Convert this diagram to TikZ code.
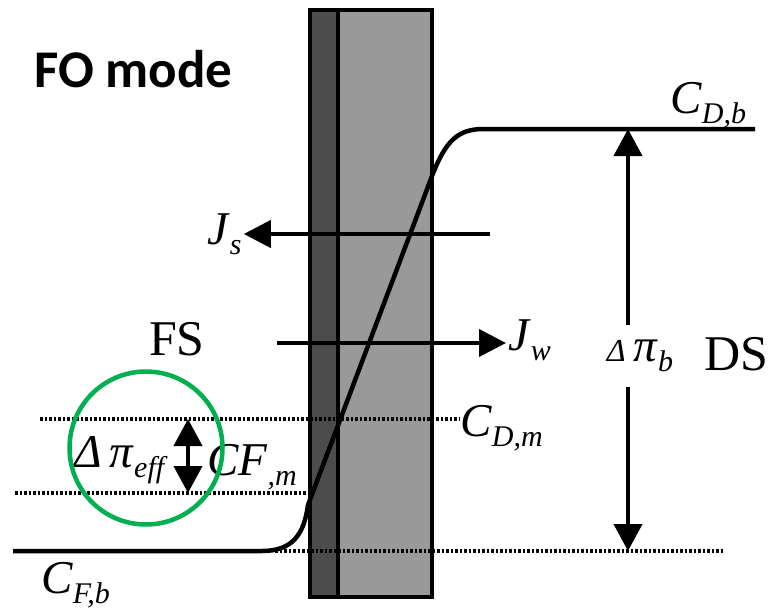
\documentclass[tikz,border=0pt]{standalone}
\usepackage{fontspec}
\setmainfont{Liberation Serif}
\newfontfamily\headfont{Carlito}
\usetikzlibrary{arrows.meta}

% italic symbol with a lowered subscript
\newcommand{\conc}[2]{\textit{#1}\raisebox{-10pt}{\fontsize{30}{30}\selectfont\textit{#2}}}

\definecolor{ringgreen}{RGB}{0,176,80}

\begin{document}
\begin{tikzpicture}[
    x=1pt, y=-1pt,
    lbl/.style={font=\fontsize{47}{47}\selectfont, inner sep=0pt},
    side/.style={font=\fontsize{50}{50}\selectfont, inner sep=0pt},
    flux/.style={line width=4pt, -{Triangle[length=27pt, width=27pt]}},
    span/.style={line width=4pt, {Triangle[length=27pt, width=28pt]}-{Triangle[length=27pt, width=28pt]}},
    level/.style={line width=3.5pt, dash pattern=on 2.5pt off 2pt},
    profile/.style={line width=4.5pt},
    wall/.style={line width=4pt}
]
\useasboundingbox (0,0) rectangle (772,608);

% membrane
\draw[wall, fill=black!40] (338,10) rectangle (432,597);
\draw[wall, fill=black!70] (310,10) rectangle (338,597);

% labels
\node[font=\headfont\bfseries\fontsize{53}{53}\selectfont, inner sep=0pt, anchor=base west] (mode) at (34,87) {FO mode};
\node[lbl, anchor=base west] (cdb) at (670,113) {\conc{C}{D,b}};
\node[lbl, anchor=base west] (cdm) at (460,436) {\conc{C}{D,m}};
\node[lbl, anchor=base west] (cfb) at (41,593) {\conc{C}{F,b}};
\node[lbl, anchor=base west] (cfm) at (207,475) {\conc{CF}{,m}};
\node[lbl, anchor=base west, inner sep=2pt] (js) at (205,244) {\conc{J}{s}};
\node[lbl, anchor=base west, inner sep=2pt] (jw) at (506,350) {\conc{J}{w}};
\node[side, anchor=base] (fs) at (177,355) {FS};
\node[side, anchor=base] (ds) at (736,370) {DS};

% concentration levels
\coordinate (cdm0) at (40,419);
\coordinate (cfm0) at (15,493);
\coordinate (cfm1) at (310,493);
\coordinate (base0) at (275,551);
\coordinate (base1) at (723,551);
\draw[level] (cdm0) -- (cdm.west |- cdm0);
\draw[level] (cfm0) -- (cfm1);
\draw[level] (base0) -- (base1);

% concentration profile
\coordinate (start) at (13,551);
\coordinate (stop) at (755,129);
\draw[profile] (start) -- (262,551) .. controls (292,551) and (304,535) .. (308,505)
    -- (432,176) .. controls (446,140) and (458,129) .. (484,129) -- (stop);

% fluxes
\coordinate (js0) at (490,234);
\coordinate (jw0) at (277,343);
\draw[flux] (js0) -- (js.east |- js0);
\draw[flux] (jw0) -- (jw.west |- jw0);

% driving forces
\coordinate (pitop) at (628,129);
\coordinate (pibot) at (628,551);
\draw[span] (pitop) -- (pibot);
\node[lbl, fill=white, minimum height=62pt, inner xsep=2pt] (pib) at (640,356)
    {{\fontsize{32}{32}\selectfont\textit{Δ}}\,\conc{π}{b}};

\coordinate (effup) at (188,419);
\coordinate (effdn) at (188,493);
\draw[span] (effup) -- (effdn);
\node[lbl, anchor=base west] (pieff) at (74,467) {\textit{Δ}\,\conc{π}{eff}};

\node[circle, draw=ringgreen, line width=4.5pt, minimum size=153pt, inner sep=0pt] (ring) at (146,448) {};
\end{tikzpicture}
\end{document}
